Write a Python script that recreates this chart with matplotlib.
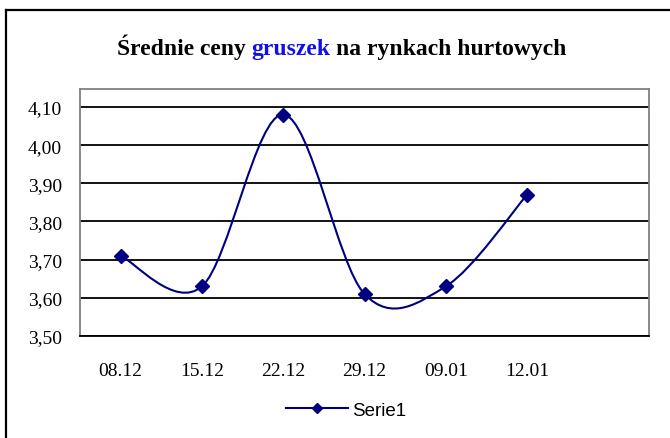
import numpy as np
import matplotlib.pyplot as plt
from matplotlib.path import Path
from matplotlib.patches import PathPatch
from matplotlib.lines import Line2D
from matplotlib.offsetbox import TextArea, HPacker, AnchoredOffsetbox

# Dane
daty = ['08.12', '15.12', '22.12', '29.12', '09.01', '12.01']
ceny = [3.71, 3.63, 4.08, 3.61, 3.63, 3.87]
y_ticks = [3.50, 3.60, 3.70, 3.80, 3.90, 4.00, 4.10]
y_etykiety = ['3,50', '3,60', '3,70', '3,80', '3,90', '4,00', '4,10']

kolor = '#000080'
serif = 'Liberation Serif'


# Wygładzona linia jak w Excelu (krzywe Beziera przez punkty)
def sciezka_gladka(xs, ys):
    pts = np.column_stack([xs, ys]).astype(float)
    n = len(pts)
    verts = [pts[0]]
    codes = [Path.MOVETO]
    for i in range(n - 1):
        p0 = pts[max(i - 1, 0)]
        p1 = pts[i]
        p2 = pts[i + 1]
        p3 = pts[min(i + 2, n - 1)]
        c1 = p1 + (p2 - p0) / 6
        c2 = p2 - (p3 - p1) / 6
        verts += [c1, c2, p2]
        codes += [Path.CURVE4] * 3
    return Path(verts, codes)


fig = plt.figure(figsize=(6.7, 4.39), dpi=100)
ax = fig.add_axes([80 / 670, 1 - 337 / 439, 569 / 670, 247 / 439])

x = np.arange(len(daty))
ax.add_patch(PathPatch(sciezka_gladka(x, ceny), fill=False, edgecolor=kolor,
                       linewidth=1.5, zorder=3))
ax.plot(x, ceny, linestyle='none', marker='D', markersize=7,
        color=kolor, zorder=4)

ax.set_xlim(-0.5, 6.5)
ax.set_ylim(3.5, 4.147)
ax.set_xticks(x)
ax.set_xticklabels(daty, fontfamily=serif, fontsize=14)
ax.set_yticks(y_ticks)
ax.set_yticklabels(y_etykiety, fontfamily=serif, fontsize=14)
ax.tick_params(axis='both', length=0)
ax.tick_params(axis='y', pad=13)
ax.tick_params(axis='x', pad=19)

ax.grid(axis='y', color='black', linewidth=1.3)
ax.set_axisbelow(True)
for s in ['left', 'top', 'right']:
    ax.spines[s].set_color('#808080')
    ax.spines[s].set_linewidth(1.3)
ax.spines['bottom'].set_color('black')
ax.spines['bottom'].set_linewidth(1.3)

# Tytuł z wyróżnionym słowem
czesci = [('Średnie ceny', 'black'), ('gruszek', '#1010ee'),
          ('na rynkach hurtowych', 'black')]
pola = [TextArea(t, textprops=dict(fontfamily=serif, fontweight='bold',
                                   fontsize=17, color=c))
        for t, c in czesci]
tytul = AnchoredOffsetbox(loc='center', child=HPacker(children=pola, sep=4, pad=0),
                          bbox_to_anchor=(342 / 670, 1 - 47 / 439),
                          bbox_transform=fig.transFigure, frameon=False,
                          pad=0, borderpad=0)
fig.add_artist(tytul)

# Legenda
uchwyt = Line2D([], [], color=kolor, marker='D', markersize=5, linewidth=1.5)
fig.legend([uchwyt], ['Serie1'], loc='center',
           bbox_to_anchor=(346 / 670, 1 - 411 / 439), frameon=False,
           prop=dict(family='Liberation Sans', size=13.5), handlelength=3.3,
           handletextpad=0.2)

# Ramka wykresu
fig.add_artist(Line2D([6 / 670, 6 / 670], [0, 1 - 11 / 439], color='black',
                      linewidth=1.6, transform=fig.transFigure))
fig.add_artist(Line2D([6 / 670, 1], [1 - 11 / 439, 1 - 11 / 439], color='black',
                      linewidth=1.6, transform=fig.transFigure))

fig.savefig('out.png', dpi=100)
